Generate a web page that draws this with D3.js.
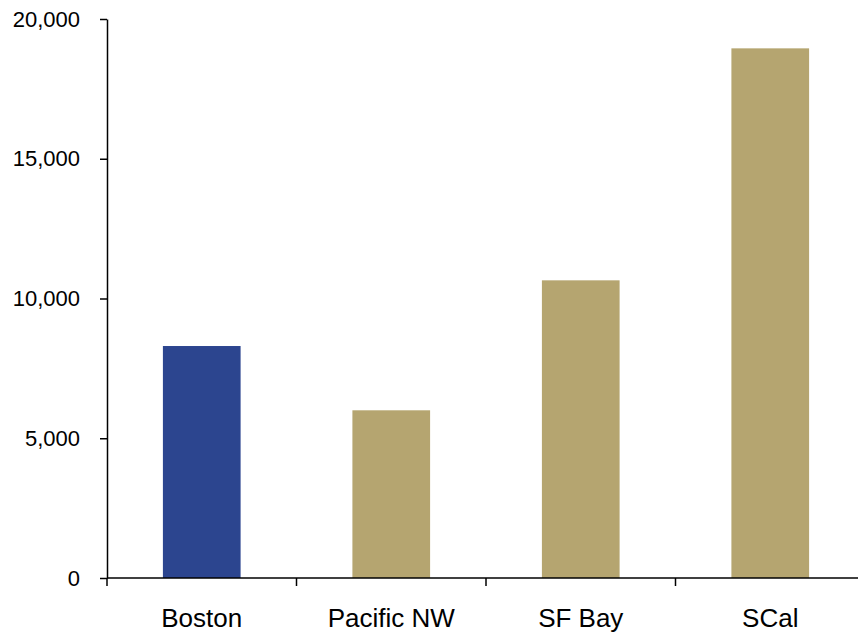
<!DOCTYPE html>
<html>
<head>
<meta charset="utf-8">
<script src="https://cdn.jsdelivr.net/npm/d3@7"></script>
<style>
  html, body { margin: 0; padding: 0; background: #fff; }
  svg { display: block; font-family: "Liberation Sans", Arial, sans-serif; }
</style>
</head>
<body>
<svg id="chart" width="858" height="633"></svg>
<script>
// Regions and their values
const categories = ["Boston", "Pacific NW", "SF Bay", "SCal"];
const values = [8300, 6000, 10650, 18950];
const yTicks = [0, 5000, 10000, 15000, 20000];
const barColors = ["#2c458f", "#b5a570", "#b5a570", "#b5a570"];

const svg = d3.select("#chart");
const margin = { left: 107, top: 19, right: -7, bottom: 55 };
const W = 858, H = 633;

const x = d3.scaleBand()
  .domain(categories)
  .range([margin.left, W - margin.right])
  .paddingInner(0.59)
  .paddingOuter(0.295);

const y = d3.scaleLinear()
  .domain([0, 20000])
  .range([H - margin.bottom, margin.top]);

// Bars
svg.append("g")
  .selectAll("rect")
  .data(categories)
  .join("rect")
  .attr("x", d => x(d))
  .attr("width", x.bandwidth())
  .attr("y", (d, i) => y(values[i]))
  .attr("height", (d, i) => y(0) - y(values[i]))
  .attr("fill", (d, i) => barColors[i]);

// Y axis
const yAxis = d3.axisLeft(y)
  .tickValues(yTicks)
  .tickFormat(d3.format(","))
  .tickSize(7)
  .tickSizeOuter(0)
  .tickPadding(20);
const gy = svg.append("g")
  .attr("transform", `translate(${margin.left},0)`)
  .call(yAxis);
gy.select(".domain").attr("stroke", "#000").attr("stroke-width", 1.5);
gy.selectAll(".tick line").attr("stroke", "#000").attr("stroke-width", 1.5);
gy.selectAll(".tick text").attr("font-size", 22).attr("fill", "#000")
  .attr("font-family", "Liberation Sans, Arial, sans-serif");

// X axis with ticks at category boundaries
const step = x.step();
const boundaries = d3.range(categories.length + 1).map(i => margin.left + i * step);
const gx = svg.append("g").attr("transform", `translate(0,${y(0)})`);
gx.append("line")
  .attr("x1", margin.left).attr("x2", W)
  .attr("stroke", "#000").attr("stroke-width", 1.5);
gx.selectAll("line.tk")
  .data(boundaries)
  .join("line")
  .attr("class", "tk")
  .attr("x1", d => d).attr("x2", d => d)
  .attr("y1", 0).attr("y2", 8)
  .attr("stroke", "#000").attr("stroke-width", 1.5);
gx.selectAll("text")
  .data(categories)
  .join("text")
  .attr("x", d => x(d) + x.bandwidth() / 2)
  .attr("y", 49)
  .attr("text-anchor", "middle")
  .attr("font-size", 26)
  .attr("fill", "#000")
  .text(d => d);
</script>
</body>
</html>
